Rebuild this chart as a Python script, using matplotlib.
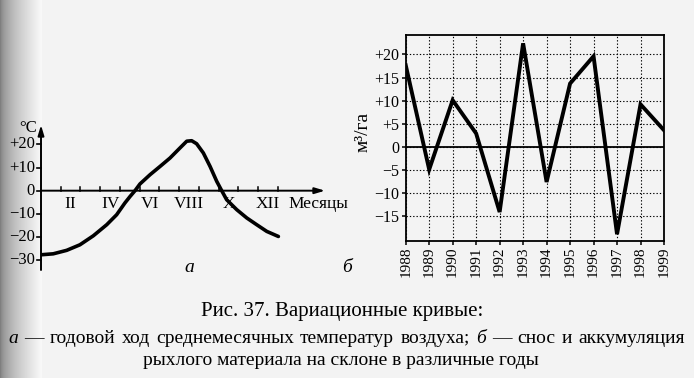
import numpy as np
import matplotlib
matplotlib.use("Agg")
import matplotlib.pyplot as plt

plt.rcParams['font.family'] = ['Liberation Serif', 'DejaVu Serif']

# ---- data: panel a (monthly mean air temperature), x in months from Jan 1 ----
month_pos = [0.03, 0.62, 1.30, 1.97, 2.65, 3.33, 3.83, 4.25, 4.51, 4.76, 5.01, 5.52,
             6.03, 6.53, 7.04, 7.38, 7.63, 7.88, 8.22, 8.56, 8.90, 9.15, 9.40, 9.91,
             10.42, 10.92, 11.43, 12.02]
temperature = [-27.7, -27.3, -25.8, -23.4, -19.5, -14.7, -10.4, -5.3, -2.5, 0.0, 2.9, 6.9,
               10.5, 14.1, 18.5, 21.4, 21.6, 20.3, 16.3, 10.5, 4.0, 0.0, -3.9, -8.2,
               -11.8, -14.7, -17.6, -19.8]
month_labels = ["II", "IV", "VI", "VIII", "X", "XII"]
month_label_pos = [1.5, 3.5, 5.5, 7.5, 9.5, 11.5]
temp_ticks = [-30, -20, -10, 0, 10, 20]
temp_tick_labels = ["\u221230", "\u221220", "\u221210", "0", "+10", "+20"]

# ---- data: panel b (erosion/accumulation of loose material) ----
years = [1988, 1989, 1990, 1991, 1992, 1993, 1994, 1995, 1996, 1997, 1998, 1999]
volume = [17.7, -4.9, 10.1, 2.9, -14.1, 22.4, -7.6, 13.7, 19.6, -18.9, 9.2, 3.6]
vol_ticks = [-15, -10, -5, 0, 5, 10, 15, 20]
vol_tick_labels = ["\u221215", "\u221210", "\u22125", "0", "+5", "+10", "+15", "+20"]

caption_title = "Рис. 37. Вариационные кривые:"
caption_line2 = "а — годовой ход среднемесячных температур воздуха; б — снос и аккумуляция"
caption_line3 = "рыхлого материала на склоне в различные годы"

W, H = 694, 378
fig = plt.figure(figsize=(W / 100, H / 100), dpi=100)
fig.patch.set_facecolor("#f3f3f3")

# scanned-page shading on left edge
bg = fig.add_axes([0, 0, 0.06, 1], zorder=-10)
grad = np.linspace(0, 1, 64)[None, :] ** 0.6
bg.imshow(grad, cmap="gray", vmin=-1.0, vmax=1.05, aspect="auto", extent=[0, 1, 0, 1])
bg.axis("off")

def fx(px):
    return px / W

def fy(py):
    return 1 - py / H

# ---------------- panel a ----------------
yl0, yl1 = -34.3, 28.4
axa = fig.add_axes([fx(41), fy(270), fx(325) - fx(41), fy(125) - fy(270)])
axa.set_xlim(0, 14.38)
axa.set_ylim(yl0, yl1)
axa.patch.set_alpha(0)
for s in axa.spines.values():
    s.set_visible(False)
axa.set_xticks([])
axa.set_yticks([])

arrow = dict(arrowstyle="-|>,head_length=0.6,head_width=0.18", color="black", lw=1.4,
             shrinkA=0, shrinkB=0)
axa.annotate("", xy=(0, yl1), xytext=(0, yl0), arrowprops=arrow, annotation_clip=False)
axa.annotate("", xy=(14.38, 0), xytext=(0, 0), arrowprops=arrow, annotation_clip=False)

for t, lab in zip(temp_ticks, temp_tick_labels):
    axa.plot([-0.2, 0], [t, t], color="black", lw=1.2, clip_on=False)
    axa.text(-0.3, t, lab, ha="right", va="center", fontsize=12)
axa.text(-0.2, 27.0, "\u00b0C", ha="right", va="center", fontsize=12)

for m in range(1, 13):
    axa.plot([m, m], [0, 1.4], color="black", lw=1.1)
for p, lab in zip(month_label_pos, month_labels):
    axa.text(p, -5.6, lab, ha="center", va="center", fontsize=12.5)
axa.text(12.55, -5.6, "Месяцы", ha="left", va="center", fontsize=12.5)

axa.plot(month_pos, temperature, color="black", lw=2.6, solid_capstyle="round",
         solid_joinstyle="round")

fig.text(fx(189), fy(268), "а", ha="center", va="center", fontsize=14, style="italic")
fig.text(fx(347), fy(268), "б", ha="center", va="center", fontsize=14, style="italic")

# ---------------- panel b ----------------
axb = fig.add_axes([fx(405.7), fy(240.7), fx(664) - fx(405.7), fy(35) - fy(240.7)])
axb.set_xlim(years[0], years[-1])
axb.set_ylim(-20.3, 24.2)
axb.patch.set_alpha(0)
axb.set_xticks(years)
axb.set_xticklabels([str(y) for y in years], rotation=90, fontsize=11)
axb.set_yticks(vol_ticks)
axb.set_yticklabels(vol_tick_labels, fontsize=11.5)
axb.tick_params(axis="both", direction="out", length=3, width=1.1, pad=1.5, color="black")
axb.grid(True, color="black", linestyle=(0, (1.2, 1.8)), lw=0.8)
for s in axb.spines.values():
    s.set_color("black")
    s.set_linewidth(1.3)
axb.axhline(0, color="black", lw=1.3)
axb.plot(years, volume, color="black", lw=2.8, solid_joinstyle="miter", zorder=5)
fig.text(fx(363), fy(132), "м³/га", rotation=90, ha="center", va="center", fontsize=14)

# ---------------- caption ----------------
fig.text(fx(342), fy(316), caption_title, ha="center", va="baseline", fontsize=15)

# justified second line
renderer = fig.canvas.get_renderer()
words = caption_line2.split(" ")
italic_idx = {0, 7}
arts = []
for i, w in enumerate(words):
    a = fig.text(0, fy(343), w, ha="left", va="baseline", fontsize=14,
                 style="italic" if i in italic_idx else "normal")
    arts.append(a)
widths = [a.get_window_extent(renderer).width for a in arts]
x0, x1 = 8, 685
gap = (x1 - x0 - sum(widths)) / (len(words) - 1)
xc = x0
for a, w in zip(arts, widths):
    a.set_x(fx(xc))
    xc += w + gap

fig.text(fx(341), fy(365), caption_line3, ha="center", va="baseline", fontsize=14)

fig.savefig("out.png", dpi=100, facecolor=fig.get_facecolor())
